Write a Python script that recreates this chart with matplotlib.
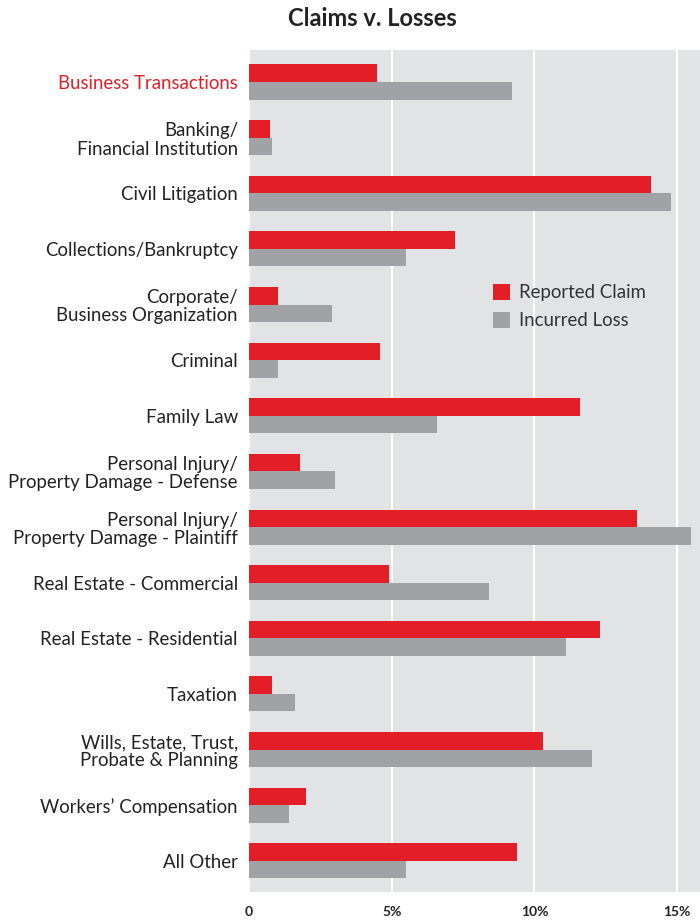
import numpy as np
import matplotlib.pyplot as plt

categories = [
    "Business Transactions",
    "Banking/\nFinancial Institution",
    "Civil Litigation",
    "Collections/Bankruptcy",
    "Corporate/\nBusiness Organization",
    "Criminal",
    "Family Law",
    "Personal Injury/\nProperty Damage - Defense",
    "Personal Injury/\nProperty Damage - Plaintiff",
    "Real Estate - Commercial",
    "Real Estate - Residential",
    "Taxation",
    "Wills, Estate, Trust,\nProbate & Planning",
    "Workers\u2019 Compensation",
    "All Other",
]
reported_claim = [4.5, 0.75, 14.1, 7.2, 1.0, 4.6, 11.6, 1.8, 13.6, 4.9, 12.3, 0.8, 10.3, 2.0, 9.4]
incurred_loss = [9.2, 0.8, 14.8, 5.5, 2.9, 1.0, 6.6, 3.0, 15.5, 8.4, 11.1, 1.6, 12.0, 1.4, 5.5]
tick_vals = [0, 5, 10, 15]
tick_labels = ["0", "5%", "10%", "15%"]

red = "#e31e26"
gray = "#a1a2a6"
bg = "#e2e3e5"

plt.rcParams['font.family'] = ['Lato', 'DejaVu Sans']

fig = plt.figure(figsize=(7, 9.21), dpi=100)
ax = fig.add_axes([0.3557, 0.0315, 0.6443, 0.9142])
ax.set_facecolor(bg)

y = np.arange(len(categories))
h = 0.315
ax.barh(y - h / 2, reported_claim, height=h, color=red, label="Reported Claim", zorder=3)
ax.barh(y + h / 2, incurred_loss, height=h, color=gray, label="Incurred Loss", zorder=3)

ax.set_xlim(0, 15.8)
ax.set_ylim(len(categories) - 1 + 0.56, -0.575)
ax.set_yticks(y)
ax.set_yticklabels(categories, fontsize=13.4, color="#222222", linespacing=1.1)
ax.get_yticklabels()[0].set_color(red)
ax.set_xticks(tick_vals)
ax.set_xticklabels(tick_labels, fontsize=10, fontweight="bold", color="#222222")
ax.tick_params(axis="both", length=0)
ax.tick_params(axis="y", pad=8)
ax.tick_params(axis="x", pad=10)
ax.xaxis.grid(True, color="white", linewidth=1.5, zorder=1)
ax.set_axisbelow(True)
for s in ax.spines.values():
    s.set_visible(False)

ax.legend(loc="upper left", bbox_to_anchor=(0.503, 0.742), frameon=False,
          fontsize=13.4, handlelength=0.95, handleheight=0.95, handletextpad=0.45,
          labelspacing=0.55, labelcolor="#333333")

fig.text(372 / 700, 1 - 18 / 921, "Claims v. Losses", ha="center", va="center",
         fontsize=17, fontweight="bold", color="#222222")

fig.savefig("out.png", dpi=100)
